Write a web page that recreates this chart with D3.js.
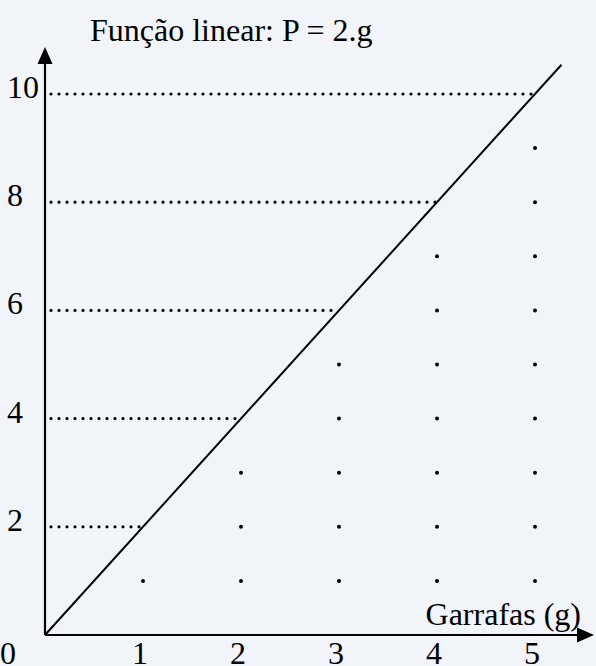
<!DOCTYPE html>
<html>
<head>
<meta charset="utf-8">
<script src="https://cdn.jsdelivr.net/npm/d3@7"></script>
<style>
  html, body { margin: 0; padding: 0; background: #f1f4f8; }
  svg { display: block; }
  text { font-family: "Liberation Serif", "Times New Roman", serif; fill: #000; }
</style>
</head>
<body>
<svg id="chart" width="596" height="666"></svg>
<script>
// ---- data ----
const title = "Função linear: P = 2.g";
const xAxisLabel = "Garrafas (g)";
const garrafas = [0, 1, 2, 3, 4, 5];          // x tick values (g)
const pTicks = [2, 4, 6, 8, 10];               // y tick values (P)
const slope = 2;                               // P = 2.g
const lineEndG = 5.27;                         // line drawn from g=0 to here

// ---- layout ----
const W = 596, H = 666;
const svg = d3.select("#chart");
svg.append("rect").attr("width", W).attr("height", H).attr("fill", "#f1f4f8");

const x = d3.scaleLinear().domain([0, 5]).range([45, 535]);
const y = d3.scaleLinear().domain([0, 10]).range([635, 94]);

const x0 = x(0), y0 = y(0);

// horizontal dotted guides from y axis to the line
svg.append("g").selectAll("line").data(pTicks).join("line")
  .attr("x1", x0 + 6)
  .attr("x2", d => x(d / slope))
  .attr("y1", d => y(d)).attr("y2", d => y(d))
  .attr("stroke", "#000").attr("stroke-width", 3.2)
  .attr("stroke-linecap", "round")
  .attr("stroke-dasharray", "0 8");

// vertical dotted guides: a dot at each integer P under the line
const vDots = [];
garrafas.filter(g => g > 0).forEach(g => {
  for (let p = 1; p < slope * g; p++) vDots.push({ g, p });
});
svg.append("g").selectAll("circle").data(vDots).join("circle")
  .attr("cx", d => x(d.g)).attr("cy", d => y(d.p))
  .attr("r", 2).attr("fill", "#000");

// the function line
svg.append("line")
  .attr("x1", x(0)).attr("y1", y(0))
  .attr("x2", x(lineEndG)).attr("y2", y(slope * lineEndG))
  .attr("stroke", "#000").attr("stroke-width", 2);

// axes
svg.append("line").attr("x1", x0).attr("x2", x0).attr("y1", y0).attr("y2", 60)
  .attr("stroke", "#000").attr("stroke-width", 2.2);
svg.append("line").attr("x1", x0).attr("x2", 580).attr("y1", y0).attr("y2", y0)
  .attr("stroke", "#000").attr("stroke-width", 2.2);
// arrowheads
svg.append("path")
  .attr("d", `M${x0},47 L${x0 - 7.5},64 L${x0 + 7.5},64 Z`).attr("fill", "#000");
svg.append("path")
  .attr("d", `M594,${y0} L577,${y0 - 7.5} L577,${y0 + 7.5} Z`).attr("fill", "#000");

// y tick labels
svg.append("g").selectAll("text").data(pTicks).join("text")
  .attr("x", 7).attr("y", d => y(d) + 4)
  .attr("font-size", 32)
  .text(d => d);

// x tick labels
svg.append("g").selectAll("text").data(garrafas).join("text")
  .attr("x", d => d === 0 ? 8 : x(d) - 3)
  .attr("y", 664)
  .attr("text-anchor", "middle")
  .attr("font-size", 32)
  .text(d => d);

// x axis label
svg.append("text").attr("x", 581).attr("y", 625)
  .attr("text-anchor", "end").attr("font-size", 32).text(xAxisLabel);

// title
svg.append("text").attr("x", 90).attr("y", 41)
  .attr("font-size", 32).text(title);
</script>
</body>
</html>
